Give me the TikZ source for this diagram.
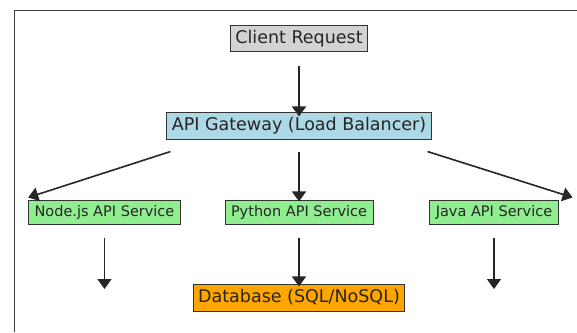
\documentclass[tikz,border=0pt]{standalone}
\usepackage{fontspec}
\setmainfont{DejaVu Sans}
\usetikzlibrary{arrows.meta}
\definecolor{clientgray}{HTML}{D3D3D3}
\definecolor{gatewayblue}{HTML}{ADD8E6}
\definecolor{servicegreen}{HTML}{90EE90}
\definecolor{dborange}{HTML}{FFA500}

\begin{document}
\begin{tikzpicture}[x=1pt, y=-1pt, >={Triangle[width=14pt,length=10pt]},
  box/.style={draw=black!80, line width=0.8pt, inner ysep=4.4pt, text=black!85},
  big/.style={box, inner xsep=5pt, text height=13.3pt, text depth=4.2pt,
    font=\fontsize{17.5}{21}\selectfont},
  small/.style={box, inner xsep=6pt, text height=11pt, text depth=3.5pt,
    font=\fontsize{14.5}{17}\selectfont},
  flow/.style={->, line width=1.6pt, draw=black!85}]
\useasboundingbox (0,0) rectangle (577,332);
\draw[black!75, line width=0.8pt] (14.5,332) -- (14.5,10.5) -- (577,10.5);
\node[big, fill=clientgray] (client) at (299,38.5) {Client Request};
\node[big, fill=gatewayblue] (gateway) at (299,126) {API Gateway (Load Balancer)};
\node[small, fill=servicegreen] (nodejs) at (104.5,212.5) {Node.js API Service};
\node[small, fill=servicegreen] (python) at (299,212.5) {Python API Service};
\node[small, fill=servicegreen] (java) at (494,212.5) {Java API Service};
\node[big, fill=dborange] (db) at (299,298) {Database (SQL/NoSQL)};
\coordinate (nodejsout) at (104.5,289);
\coordinate (javaout) at (494,289);
\draw[flow, shorten <=14pt, shorten >=-4pt] (client) -- (gateway);
\draw[flow] ([shift={(4,12)}]gateway.south west) -- ([shift={(0,-3)}]nodejs.north west);
\draw[flow, shorten <=12pt, shorten >=-1pt] (gateway) -- (python);
\draw[flow] ([shift={(-4,12)}]gateway.south east) -- ([shift={(14,-3)}]java.north east);
\draw[flow, shorten <=13pt] (nodejs) -- (nodejsout);
\draw[flow, shorten <=13pt, shorten >=-2pt] (python) -- (db);
\draw[flow, shorten <=13pt] (java) -- (javaout);
\end{tikzpicture}
\end{document}
